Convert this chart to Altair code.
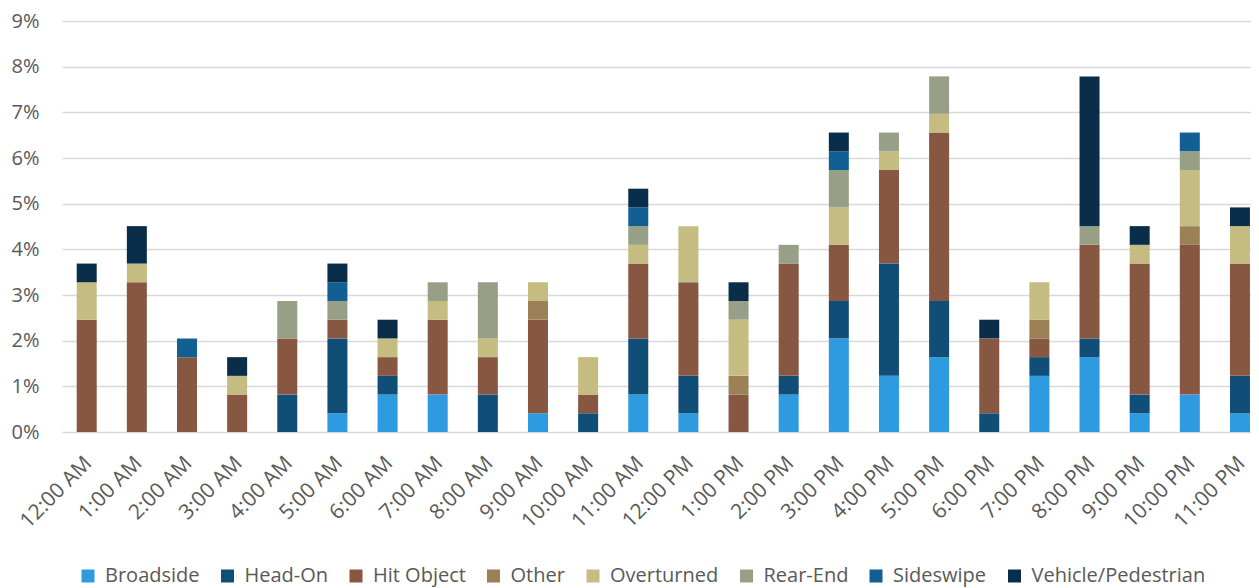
import altair as alt
import pandas as pd

hours = ["12:00 AM", "1:00 AM", "2:00 AM", "3:00 AM", "4:00 AM", "5:00 AM",
         "6:00 AM", "7:00 AM", "8:00 AM", "9:00 AM", "10:00 AM", "11:00 AM",
         "12:00 PM", "1:00 PM", "2:00 PM", "3:00 PM", "4:00 PM", "5:00 PM",
         "6:00 PM", "7:00 PM", "8:00 PM", "9:00 PM", "10:00 PM", "11:00 PM"]

categories = ["Broadside", "Head-On", "Hit Object", "Other", "Overturned",
              "Rear-End", "Sideswipe", "Vehicle/Pedestrian"]
colors = ["#2E9AE0", "#104E78", "#875742", "#9C8156", "#C4BC80",
          "#97A087", "#125F93", "#0A2E4A"]

# collision counts per hour (share of total shown as percent)
broadside  = [0, 0, 0, 0, 0, 1, 2, 2, 0, 1, 0, 2, 1, 0, 2, 5, 3, 4, 0, 3, 4, 1, 2, 1]
head_on    = [0, 0, 0, 0, 2, 4, 1, 0, 2, 0, 1, 3, 2, 0, 1, 2, 6, 3, 1, 1, 1, 1, 0, 2]
hit_object = [6, 8, 4, 2, 3, 1, 1, 4, 2, 5, 1, 4, 5, 2, 6, 3, 5, 9, 4, 1, 5, 7, 8, 6]
other      = [0, 0, 0, 0, 0, 0, 0, 0, 0, 1, 0, 0, 0, 1, 0, 0, 0, 0, 0, 1, 0, 0, 1, 0]
overturned = [2, 1, 0, 1, 0, 0, 1, 1, 1, 1, 2, 1, 3, 3, 0, 2, 1, 1, 0, 2, 0, 1, 3, 2]
rear_end   = [0, 0, 0, 0, 2, 1, 0, 1, 3, 0, 0, 1, 0, 1, 1, 2, 1, 2, 0, 0, 1, 0, 1, 0]
sideswipe  = [0, 0, 1, 0, 0, 1, 0, 0, 0, 0, 0, 1, 0, 0, 0, 1, 0, 0, 0, 0, 0, 0, 1, 0]
veh_ped    = [1, 2, 0, 1, 0, 1, 1, 0, 0, 0, 0, 1, 0, 1, 0, 1, 0, 0, 1, 0, 8, 1, 0, 1]

series = [broadside, head_on, hit_object, other, overturned, rear_end, sideswipe, veh_ped]

rows = []
for ci, (cat, vals) in enumerate(zip(categories, series)):
    for h, v in zip(hours, vals):
        rows.append({"hour": h, "type": cat, "order": ci, "count": v})
df = pd.DataFrame(rows)

FONT = "Open Sans"
GREY = "#595959"

chart = alt.Chart(df).transform_joinaggregate(
    total="sum(count)"
).transform_calculate(
    pct="datum.count / datum.total"
).transform_filter(
    "datum.count > 0"
).mark_bar().encode(
    x=alt.X("hour:N", sort=hours, title=None,
            scale=alt.Scale(paddingInner=0.601, paddingOuter=0.157, align=0.934),
            axis=alt.Axis(labelAngle=-45, labelAlign="right", labelBaseline="middle",
                          labelOffset=2, labelPadding=28, ticks=False, domain=False,
                          grid=False,
                          labelFont=FONT, labelFontSize=21, labelColor=GREY)),
    y=alt.Y("pct:Q", stack="zero", title=None,
            scale=alt.Scale(domain=[0, 0.09], nice=False),
            axis=alt.Axis(format=".0%", values=[i / 100 for i in range(10)],
                          ticks=False, tickSize=0, domain=False, labelPadding=23,
                          labelFont=FONT, labelFontSize=20, labelColor=GREY,
                          gridColor="#D9D9D9", gridWidth=1.5)),
    color=alt.Color("type:N", sort=categories,
                    scale=alt.Scale(domain=categories, range=colors),
                    legend=alt.Legend(title=None, orient="none", direction="horizontal",
                                      legendX=16, legendY=545, padding=0,
                                      symbolType="square", symbolSize=169,
                                      symbolStrokeWidth=0, labelOffset=7,
                                      columnPadding=17.5, labelLimit=400,
                                      labelFont=FONT, labelFontSize=20,
                                      labelColor=GREY)),
    order=alt.Order("order:Q", sort="ascending"),
).properties(
    width=1189, height=411,
    background="white",
    autosize=alt.AutoSizeParams(type="none"),
    padding={"left": 54, "top": 13, "right": 0, "bottom": 160},
).configure_view(stroke=None)

chart.save("out.html", embed_options={"renderer": "svg", "actions": False})
